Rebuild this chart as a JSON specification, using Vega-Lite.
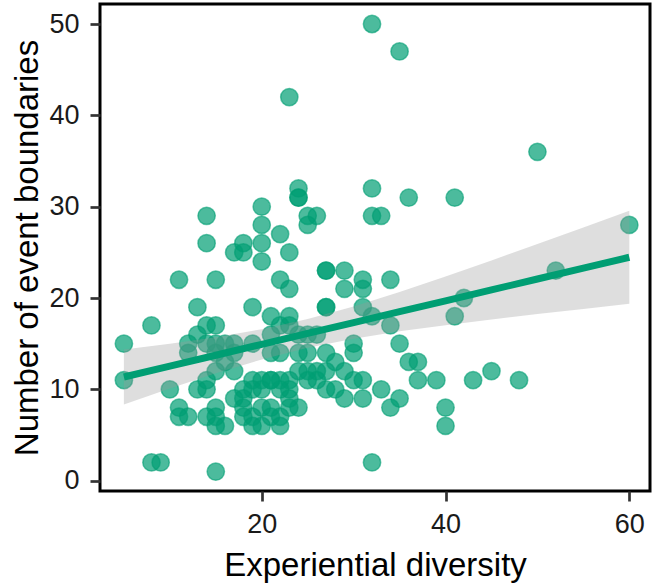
{
  "$schema": "https://vega.github.io/schema/vega-lite/v6.json",
  "width": 550,
  "height": 487,
  "autosize": "none",
  "padding": {"left": 100, "top": 4, "right": 7, "bottom": 96},
  "background": "white",
  "config": {
    "view": {"stroke": "black", "strokeWidth": 3},
    "font": "Liberation Sans",
    "axis": {
      "grid": false,
      "domain": false,
      "tickColor": "#333333",
      "tickWidth": 2.7,
      "tickSize": 10,
      "labelFont": "Liberation Sans",
      "labelFontSize": 27,
      "labelColor": "#1a1a1a",
      "labelPadding": 10,
      "titleFont": "Liberation Sans",
      "titleFontSize": 33,
      "titleFontWeight": "normal",
      "titleColor": "black"
    }
  },
  "datasets": {
    "pts": [
      {"div": 32, "eb": 50}, {"div": 35, "eb": 47}, {"div": 23, "eb": 42}, {"div": 50, "eb": 36},
      {"div": 24, "eb": 32}, {"div": 24, "eb": 31}, {"div": 24, "eb": 31}, {"div": 32, "eb": 32},
      {"div": 36, "eb": 31}, {"div": 41, "eb": 31}, {"div": 20, "eb": 30}, {"div": 14, "eb": 29},
      {"div": 25, "eb": 29}, {"div": 26, "eb": 29}, {"div": 32, "eb": 29}, {"div": 33, "eb": 29},
      {"div": 60, "eb": 28}, {"div": 20, "eb": 28}, {"div": 25, "eb": 28}, {"div": 14, "eb": 26},
      {"div": 20, "eb": 26}, {"div": 18, "eb": 26}, {"div": 22, "eb": 27}, {"div": 17, "eb": 25},
      {"div": 18, "eb": 25}, {"div": 23, "eb": 25}, {"div": 20, "eb": 24},
      {"div": 11, "eb": 22}, {"div": 15, "eb": 22}, {"div": 22, "eb": 22}, {"div": 23, "eb": 21},
      {"div": 27, "eb": 23}, {"div": 27, "eb": 23}, {"div": 29, "eb": 23}, {"div": 31, "eb": 22},
      {"div": 29, "eb": 21}, {"div": 31, "eb": 21}, {"div": 34, "eb": 22}, {"div": 27, "eb": 19},
      {"div": 27, "eb": 19}, {"div": 31, "eb": 19}, {"div": 13, "eb": 19}, {"div": 19, "eb": 19},
      {"div": 32, "eb": 18}, {"div": 21, "eb": 18}, {"div": 23, "eb": 18}, {"div": 52, "eb": 23},
      {"div": 42, "eb": 20}, {"div": 41, "eb": 18},
      {"div": 5, "eb": 15}, {"div": 8, "eb": 17}, {"div": 14, "eb": 17}, {"div": 15, "eb": 17},
      {"div": 13, "eb": 16}, {"div": 12, "eb": 15}, {"div": 12, "eb": 14}, {"div": 15, "eb": 15},
      {"div": 16, "eb": 15}, {"div": 17, "eb": 15}, {"div": 19, "eb": 15}, {"div": 21, "eb": 16},
      {"div": 22, "eb": 17}, {"div": 23, "eb": 17}, {"div": 24, "eb": 16}, {"div": 25, "eb": 16},
      {"div": 26, "eb": 16}, {"div": 34, "eb": 17}, {"div": 35, "eb": 15}, {"div": 30, "eb": 15},
      {"div": 30, "eb": 14}, {"div": 27, "eb": 14}, {"div": 28, "eb": 13}, {"div": 21, "eb": 14},
      {"div": 22, "eb": 14}, {"div": 24, "eb": 14}, {"div": 25, "eb": 14}, {"div": 17, "eb": 14},
      {"div": 14, "eb": 15}, {"div": 15, "eb": 14}, {"div": 16, "eb": 13}, {"div": 17, "eb": 12},
      {"div": 15, "eb": 12},
      {"div": 5, "eb": 11}, {"div": 10, "eb": 10}, {"div": 13, "eb": 10}, {"div": 14, "eb": 11},
      {"div": 14, "eb": 10}, {"div": 19, "eb": 11}, {"div": 20, "eb": 11}, {"div": 21, "eb": 11},
      {"div": 22, "eb": 11}, {"div": 23, "eb": 11}, {"div": 24, "eb": 12}, {"div": 25, "eb": 12},
      {"div": 26, "eb": 12}, {"div": 27, "eb": 12}, {"div": 29, "eb": 12}, {"div": 30, "eb": 11},
      {"div": 31, "eb": 11}, {"div": 28, "eb": 10}, {"div": 27, "eb": 10}, {"div": 26, "eb": 11},
      {"div": 25, "eb": 11}, {"div": 23, "eb": 10}, {"div": 22, "eb": 10}, {"div": 21, "eb": 11},
      {"div": 20, "eb": 10}, {"div": 19, "eb": 10}, {"div": 18, "eb": 10}, {"div": 36, "eb": 13},
      {"div": 37, "eb": 13}, {"div": 37, "eb": 11}, {"div": 39, "eb": 11}, {"div": 43, "eb": 11},
      {"div": 45, "eb": 12}, {"div": 48, "eb": 11}, {"div": 33, "eb": 10}, {"div": 35, "eb": 9},
      {"div": 31, "eb": 9}, {"div": 29, "eb": 9}, {"div": 17, "eb": 9}, {"div": 18, "eb": 9},
      {"div": 11, "eb": 8}, {"div": 11, "eb": 7}, {"div": 12, "eb": 7}, {"div": 14, "eb": 7},
      {"div": 15, "eb": 7}, {"div": 15, "eb": 6}, {"div": 16, "eb": 6}, {"div": 15, "eb": 8},
      {"div": 18, "eb": 8}, {"div": 18, "eb": 7}, {"div": 19, "eb": 7}, {"div": 20, "eb": 8},
      {"div": 21, "eb": 8}, {"div": 21, "eb": 7}, {"div": 22, "eb": 7}, {"div": 20, "eb": 6},
      {"div": 22, "eb": 6}, {"div": 23, "eb": 9}, {"div": 24, "eb": 8}, {"div": 23, "eb": 8},
      {"div": 19, "eb": 6}, {"div": 34, "eb": 8}, {"div": 40, "eb": 8}, {"div": 40, "eb": 6},
      {"div": 8, "eb": 2}, {"div": 9, "eb": 2}, {"div": 15, "eb": 1}, {"div": 32, "eb": 2}
    ],
    "fit": [
      {"div": 5, "fit": 11.35, "lo": 8.35, "hi": 14.35},
      {"div": 10, "fit": 12.54, "lo": 10.09, "hi": 14.99},
      {"div": 15, "fit": 13.73, "lo": 11.75, "hi": 15.71},
      {"div": 20, "fit": 14.93, "lo": 13.28, "hi": 16.58},
      {"div": 25, "fit": 16.12, "lo": 14.55, "hi": 17.69},
      {"div": 30, "fit": 17.31, "lo": 15.55, "hi": 19.07},
      {"div": 35, "fit": 18.5, "lo": 16.35, "hi": 20.65},
      {"div": 40, "fit": 19.69, "lo": 17.03, "hi": 22.35},
      {"div": 45, "fit": 20.89, "lo": 17.66, "hi": 24.12},
      {"div": 50, "fit": 22.08, "lo": 18.24, "hi": 25.92},
      {"div": 55, "fit": 23.27, "lo": 18.81, "hi": 27.73},
      {"div": 60, "fit": 24.46, "lo": 19.36, "hi": 29.56}
    ]
  },
  "layer": [
    {
      "data": {"name": "pts"},
      "mark": {
        "type": "circle",
        "size": 300,
        "fill": "#009E73",
        "fillOpacity": 0.7,
        "stroke": "#009E73",
        "strokeOpacity": 0.6,
        "strokeWidth": 1.5
      },
      "encoding": {
        "x": {
          "field": "div",
          "type": "quantitative",
          "title": "Experiential diversity",
          "scale": {"domain": [2.4, 62.25], "nice": false, "zero": false},
          "axis": {"values": [20, 40, 60], "titlePadding": 12}
        },
        "y": {
          "field": "eb",
          "type": "quantitative",
          "title": "Number of event boundaries",
          "scale": {"domain": [-1.13, 52.19], "nice": false, "zero": false},
          "axis": {"values": [0, 10, 20, 30, 40, 50], "labelPadding": 11, "titlePadding": 4}
        }
      }
    },
    {
      "data": {"name": "fit"},
      "mark": {"type": "area", "color": "#999999", "opacity": 0.32},
      "encoding": {
        "x": {"field": "div", "type": "quantitative"},
        "y": {"field": "lo", "type": "quantitative"},
        "y2": {"field": "hi"}
      }
    },
    {
      "data": {"name": "fit"},
      "mark": {"type": "line", "color": "#009E73", "strokeWidth": 7, "strokeCap": "butt"},
      "encoding": {
        "x": {"field": "div", "type": "quantitative"},
        "y": {"field": "fit", "type": "quantitative"}
      }
    }
  ]
}
